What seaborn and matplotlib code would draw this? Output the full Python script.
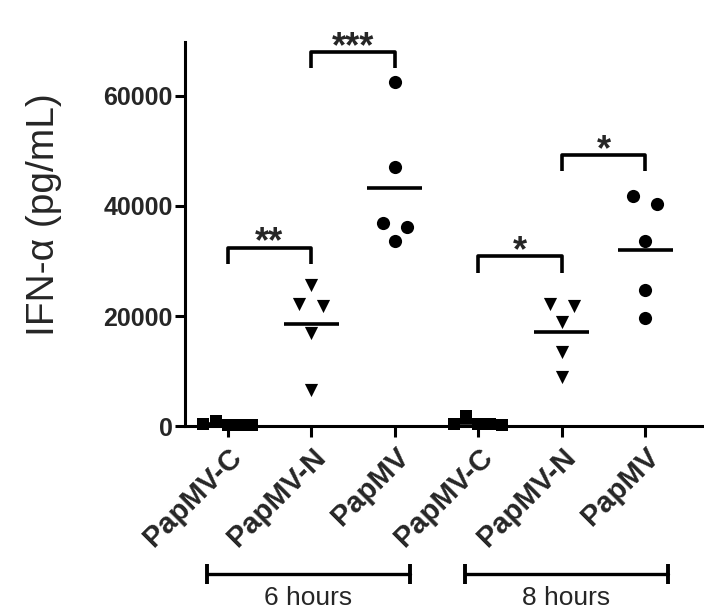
import numpy as np
import pandas as pd
import matplotlib.pyplot as plt
import matplotlib.transforms as mtransforms
import seaborn as sns

# Groups on the x axis (unique keys) and the labels shown under them
groups = ['PapMV-C 6h', 'PapMV-N 6h', 'PapMV 6h', 'PapMV-C 8h', 'PapMV-N 8h', 'PapMV 8h']
tick_labels = ['PapMV-C', 'PapMV-N', 'PapMV', 'PapMV-C', 'PapMV-N', 'PapMV']
group_markers = ['s', 'v', 'o', 's', 'v', 'o']

# IFN-alpha (pg/mL)
papmv_c_6h = [300, 900, 200, 250, 150]
papmv_n_6h = [25600, 22100, 21900, 16900, 6500]
papmv_6h = [62500, 47100, 36900, 36200, 33600]
papmv_c_8h = [400, 1800, 300, 350, 250]
papmv_n_8h = [22100, 21900, 18900, 13500, 8900]
papmv_8h = [41800, 40400, 33600, 24700, 19600]

# significance brackets
sig_left = [0, 1, 3, 4]
sig_right = [1, 2, 4, 5]
sig_height = [32400, 68000, 30900, 49300]
sig_text = ['**', '***', '*', '*']

time_labels = ['6 hours', '8 hours']

values = [papmv_c_6h, papmv_n_6h, papmv_6h, papmv_c_8h, papmv_n_8h, papmv_8h]


def spread(vals, gap=2200, step=0.145):
    # Prism-like scatter: points closer than `gap` share a row, spread symmetrically
    vals = np.asarray(vals, dtype=float)
    order = np.argsort(-vals, kind='stable')
    clusters = [[order[0]]]
    for i in order[1:]:
        if vals[clusters[-1][-1]] - vals[i] < gap:
            clusters[-1].append(i)
        else:
            clusters.append([i])
    offs = np.zeros(len(vals))
    for cl in clusters:
        cl = sorted(cl)
        n = len(cl)
        if n % 2:
            pos = np.arange(n) - (n - 1) / 2
        else:
            half = np.arange(1, n // 2 + 1)
            pos = np.concatenate([-half[::-1], half])
        offs[cl] = pos * step
    return offs


rows = []
for i, (g, m, v) in enumerate(zip(groups, group_markers, values)):
    for val, off in zip(v, spread(v)):
        rows.append({'group': g, 'marker': m, 'value': val, 'x': i + off})
df = pd.DataFrame(rows)

sns.set_style('ticks')
plt.rcParams['font.family'] = ['Liberation Sans', 'DejaVu Sans']

fig = plt.figure(figsize=(7.04, 6.13), dpi=100)
ax = fig.add_axes([0.2628, 0.305, 0.7358, 0.6264])

marker_sizes = {'s': 75, 'v': 90, 'o': 90}
for m, sz in marker_sizes.items():
    sns.scatterplot(data=df[df['marker'] == m], x='x', y='value', marker=m,
                    color='black', s=sz, linewidth=0, ax=ax, zorder=4, legend=False)
for c in ax.collections:
    c.set_clip_on(False)

# mean lines
means = df.groupby('group')['value'].mean()
for i, g in enumerate(groups):
    ax.hlines(means[g], i - 0.33, i + 0.33, color='black', lw=2.6, zorder=3)

ax.set_xlim(-0.51, 5.69)
ax.set_ylim(0, 69800)
ax.set_yticks([0, 20000, 40000, 60000])
ax.set_yticklabels(['0', '20000', '40000', '60000'], fontweight='bold', fontsize=18)
ax.set_xticks(range(len(groups)))
ax.set_xticklabels(tick_labels, rotation=45, ha='right', rotation_mode='anchor',
                   fontweight='bold', fontsize=21)
ax.set_xlabel('')
ax.set_ylabel('IFN-α (pg/mL)', fontsize=28)
ax.yaxis.set_label_coords(-0.237, 0.55)

sns.despine(ax=ax)
for s in ['left', 'bottom']:
    ax.spines[s].set_linewidth(2.2)
    ax.spines[s].set_color('black')
ax.tick_params(axis='both', width=2.2, length=7, color='black', pad=2)
ax.tick_params(axis='x', length=8, pad=4)

# significance brackets
drop = 3000
for l, r, h, t in zip(sig_left, sig_right, sig_height, sig_text):
    ax.plot([l, l, r, r], [h - drop, h, h, h - drop], color='black', lw=2.6,
            clip_on=False, solid_capstyle='butt')
    ax.annotate(t, xy=((l + r) / 2, h), xytext=(0, -3.5), textcoords='offset points',
                ha='center', va='baseline', fontsize=26, fontweight='bold',
                annotation_clip=False)

# time brackets under the axis
trans = mtransforms.blended_transform_factory(ax.transData, ax.transAxes)
spans = [(-0.25, 2.18), (2.84, 5.27)]
for (x0, x1), lab in zip(spans, time_labels):
    ax.plot([x0, x1], [-0.385, -0.385], color='black', lw=2.4, transform=trans, clip_on=False)
    for xe in (x0, x1):
        ax.plot([xe, xe], [-0.358, -0.412], color='black', lw=2.8, transform=trans,
                clip_on=False, solid_capstyle='butt')
    ax.text((x0 + x1) / 2, -0.448, lab, transform=trans, ha='center', va='center', fontsize=19)

fig.savefig('out.png', dpi=100)
